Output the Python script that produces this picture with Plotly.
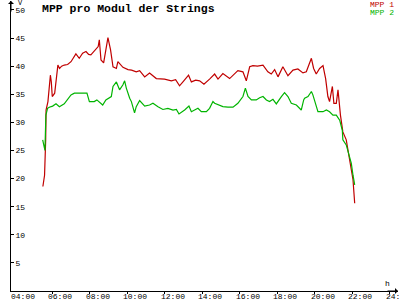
import plotly.graph_objects as go

# time of day in hours, MPP voltage per module (V)
t_mpp1 = [5.49, 5.58, 5.64, 5.66, 5.76, 5.89, 5.94, 5.99, 6.12, 6.21, 6.29, 6.38, 6.49, 6.63, 6.81,
          6.99, 7.13, 7.25, 7.43, 7.61, 7.79, 7.93, 8.05, 8.20, 8.32, 8.44, 8.50, 8.54, 8.59, 8.73,
          8.85, 8.96, 9.10, 9.23, 9.41, 9.49, 9.76, 10.03, 10.22, 10.47, 10.65, 10.92, 11.18, 11.54,
          11.98, 12.34, 12.57, 12.78, 12.96, 13.26, 13.41, 13.64, 13.85, 14.08, 14.38, 14.65, 14.83,
          15.09, 15.45, 15.72, 15.89, 16.16, 16.34, 16.52, 16.69, 16.94, 17.23, 17.49, 17.67, 17.85,
          18.03, 18.29, 18.56, 18.83, 19.09, 19.36, 19.54, 19.81, 19.93, 20.07, 20.25, 20.43, 20.57,
          20.69, 20.78, 20.93, 21.01, 21.14, 21.23, 21.36, 21.49, 21.67, 21.81, 21.94, 22.03, 22.12]
v_mpp1 = [18.6, 20.6, 26.9, 32.2, 33.7, 38.4, 37.2, 34.6, 35.2, 38.4, 40.2, 39.6, 40.0, 40.2, 40.3,
          40.8, 41.5, 42.2, 41.4, 42.3, 42.6, 42.1, 42.0, 42.6, 42.9, 43.5, 44.7, 42.5, 41.1, 40.6,
          42.9, 45.1, 42.9, 39.9, 39.6, 40.8, 39.8, 39.4, 39.3, 39.0, 39.2, 38.1, 38.8, 37.8,
          37.7, 37.4, 37.6, 36.5, 37.2, 38.4, 37.2, 37.5, 37.4, 36.8, 37.7, 38.6, 37.7,
          38.7, 37.8, 38.6, 39.2, 39.0, 37.4, 39.9, 40.1, 40.0, 40.2, 39.0, 38.6, 39.4,
          38.1, 39.9, 38.3, 39.3, 39.5, 38.8, 39.0, 41.4, 39.6, 38.6, 39.6, 40.1, 37.8,
          34.6, 33.7, 36.4, 33.4, 33.4, 35.8, 31.3, 28.3, 26.9, 23.9, 21.5, 19.8, 15.6]

t_mpp2 = [5.48, 5.51, 5.57, 5.60, 5.65, 5.74, 5.83, 6.01, 6.19, 6.37, 6.63, 6.81, 6.99, 7.17, 7.34,
          7.61, 7.84, 7.97, 8.23, 8.37, 8.68, 8.85, 9.14, 9.23, 9.41, 9.58, 9.76, 9.85, 9.94, 10.12,
          10.21, 10.38, 10.47, 10.65, 10.92, 11.18, 11.36, 11.63, 11.89, 12.16, 12.43, 12.61, 12.75,
          13.05, 13.28, 13.41, 13.76, 13.94, 14.21, 14.38, 14.56, 14.65, 14.83, 15.09, 15.36, 15.63,
          15.89, 16.16, 16.29, 16.43, 16.61, 16.87, 17.05, 17.23, 17.41, 17.58, 17.76, 17.94, 18.21,
          18.38, 18.56, 18.74, 19.01, 19.27, 19.40, 19.45, 19.63, 19.81, 19.89, 20.04, 20.16, 20.43,
          20.61, 20.78, 20.96, 21.14, 21.32, 21.46, 21.49, 21.67, 21.81, 21.94, 22.03, 22.12]
v_mpp2 = [26.9, 26.3, 25.7, 25.0, 31.3, 32.5, 32.7, 32.9, 33.3, 32.8, 33.3, 34.0, 34.9, 35.2, 35.2,
          35.2, 35.2, 33.7, 33.7, 34.0, 33.1, 34.0, 34.6, 36.4, 37.2, 35.8, 36.7, 37.4, 36.1, 34.3,
          33.7, 31.7, 32.8, 33.9, 32.9, 33.1, 33.4, 32.8, 32.3, 32.5, 32.2, 32.3, 31.5,
          32.2, 32.9, 31.9, 32.5, 31.9, 31.9, 32.5, 33.7, 33.4, 33.1, 32.8, 32.7, 32.7,
          33.4, 34.6, 36.1, 34.6, 34.0, 34.0, 34.4, 34.6, 34.0, 33.7, 34.1, 33.3, 34.6,
          35.3, 34.6, 33.4, 33.1, 32.2, 34.0, 34.3, 34.6, 35.5, 34.9, 33.1, 31.9, 31.9,
          32.2, 31.9, 31.3, 31.3, 30.4, 28.6, 26.9, 26.0, 24.5, 22.7, 20.6, 18.9]

x_ticks = [4, 6, 8, 10, 12, 14, 16, 18, 20, 22, 24]
x_labels = ["04:00", "06:00", "08:00", "10:00", "12:00", "14:00", "16:00", "18:00", "20:00", "22:00", "24:00"]
y_ticks = [5, 10, 15, 20, 25, 30, 35, 40, 45, 50]

RED = "#c00000"
GREEN = "#00b400"
FONT = "Liberation Mono"
XR = [3.79, 24.43]
YR = [0, 51.6]

fig = go.Figure()
fig.add_trace(go.Scatter(x=t_mpp1, y=v_mpp1, mode="lines", line=dict(color=RED, width=1.2),
                         showlegend=False))
fig.add_trace(go.Scatter(x=t_mpp2, y=v_mpp2, mode="lines", line=dict(color=GREEN, width=1.2),
                         showlegend=False))

fig.update_layout(
    width=400, height=300,
    margin=dict(l=11, r=2, t=1, b=9),
    paper_bgcolor="white", plot_bgcolor="white",
    font=dict(family=FONT, size=8, color="black"),
    xaxis=dict(range=XR, showgrid=False, zeroline=False, showline=True, linecolor="black", linewidth=1,
               tickvals=x_ticks, showticklabels=False, ticks="outside", ticklen=2, tickcolor="black",
               automargin=False),
    xaxis2=dict(range=XR, overlaying="x", anchor="y", showgrid=False, zeroline=False,
                tickvals=x_ticks, showticklabels=False, ticks="inside", ticklen=2, tickcolor="black",
                side="bottom"),
    yaxis=dict(range=YR, showgrid=False, zeroline=False, showline=True, linecolor="black", linewidth=1,
               tickvals=y_ticks, ticks="inside", ticklen=3, tickcolor="black",
               ticklabelposition="inside", automargin=False, ticklabelstandoff=0,
               tickfont=dict(family=FONT, size=8, color="black")),
    yaxis2=dict(range=YR, overlaying="y", anchor="x", showgrid=False, zeroline=False,
                tickvals=y_ticks, showticklabels=False, ticks="outside", ticklen=3, tickcolor="black",
                side="left"),
)

ann = [
    dict(text="<b>MPP pro Modul der Strings</b>", x=0.075, y=(291 - 8) / 290, xanchor="left",
         yanchor="middle", font=dict(family=FONT, size=11.5, color="black")),
    dict(text="MPP 1", x=0.995, y=(291 - 4) / 290, xanchor="right", yanchor="middle",
         font=dict(family=FONT, size=8, color=RED)),
    dict(text="MPP 2", x=0.995, y=(291 - 13) / 290, xanchor="right", yanchor="middle",
         font=dict(family=FONT, size=8, color=GREEN)),
    dict(text="V", x=0.012, y=(291 - 3) / 290, xanchor="left", yanchor="middle",
         font=dict(family=FONT, size=7, color="#000000")),
    dict(text="h", x=0.972, y=(291 - 283) / 290, xanchor="center", yanchor="middle",
         font=dict(family=FONT, size=8, color="#000000")),
    # axis arrow heads
    dict(text="", x=0, y=1.0, ax=0, ay=12, showarrow=True, arrowhead=1, arrowsize=1, arrowwidth=1,
         arrowcolor="#000000"),
    dict(text="", x=1.0, y=0, ax=-12, ay=0, showarrow=True, arrowhead=1, arrowsize=1, arrowwidth=1,
         arrowcolor="#000000"),
]
for a in ann:
    a.setdefault("xref", "paper")
    a.setdefault("yref", "paper")
    a.setdefault("showarrow", False)
# x tick labels, placed just under the axis line as in the reference
for tv, tl in zip(x_ticks, x_labels):
    ann.append(dict(text=tl, x=tv, xref="x", y=(291 - 296) / 290, yref="paper", xanchor="center",
                    yanchor="middle", xshift=8, showarrow=False,
                    font=dict(family=FONT, size=8, color="#000000")))
fig.update_layout(annotations=ann)

fig.write_html("out.html")
